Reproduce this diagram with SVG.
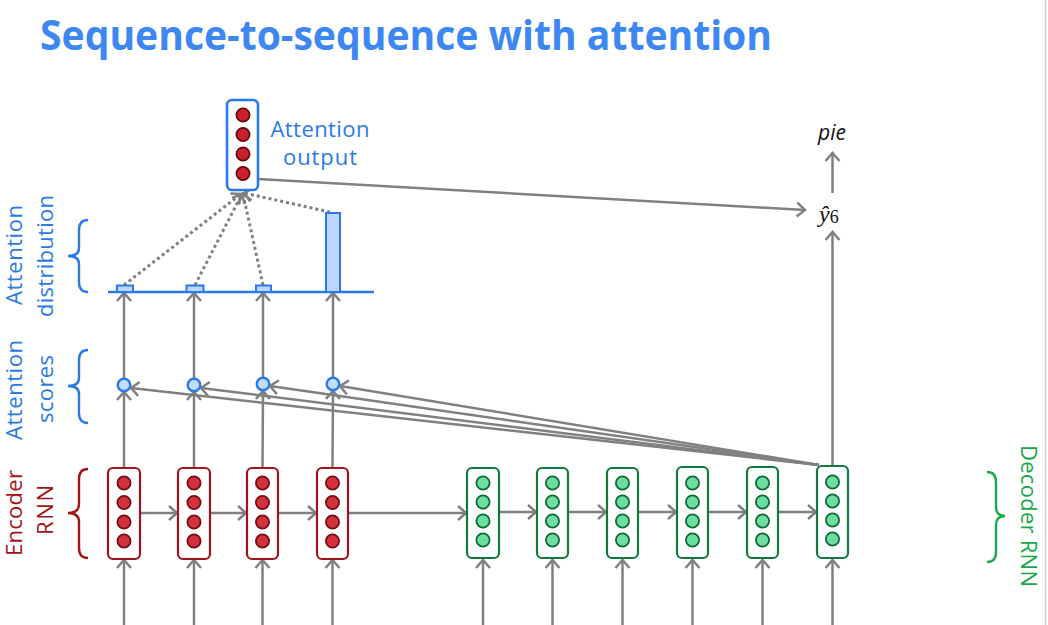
<svg xmlns="http://www.w3.org/2000/svg" width="1048" height="625" viewBox="0 0 1048 625">
<style>
.title{font-family:"Open Sans","Liberation Sans",sans-serif;font-weight:bold;font-size:41px;fill:#3d87f2}
.lbl{font-family:"Open Sans","Liberation Sans",sans-serif;font-size:22px}
.blue{fill:#2a7ae6}
.red{fill:#a31515}
.green{fill:#19a84a}
.enc rect{fill:#fff;stroke:#a0141e;stroke-width:2.2}
.enc circle{fill:#d1323e;stroke:#7a0a14;stroke-width:1.8}
.dec rect{fill:#fff;stroke:#0f7a3c;stroke-width:2.2}
.dec circle{fill:#6ddea0;stroke:#0c6a34;stroke-width:1.8}
.att rect{fill:#fff;stroke:#2a7ae6;stroke-width:2.6}
.att circle{fill:#c8202c;stroke:#6a0a10;stroke-width:1.8}
.ar{stroke:#808080;stroke-width:2.5;fill:none;marker-end:url(#ah)}
.dot{stroke:#808080;stroke-width:3;fill:none;stroke-dasharray:3 3;marker-end:url(#ah)}
.score{fill:#c3dcff;stroke:#2a7ae6;stroke-width:2.4}
.bar{fill:#bcd6ff;stroke:#2a7ae6;stroke-width:2}
.brace{fill:none;stroke-width:2.4}
</style>
<defs>
<marker id="ah" markerUnits="userSpaceOnUse" markerWidth="20" markerHeight="20" refX="10" refY="10" orient="auto" viewBox="0 0 20 20">
<path d="M2,3 L10,10 L2,17" fill="none" stroke="#808080" stroke-width="2.5"/>
</marker>
</defs>
<rect x="0" y="0" width="1048" height="625" fill="#fff"/>
<line x1="1045.5" y1="0" x2="1045.5" y2="625" stroke="#cfcfcf" stroke-width="1.5"/>
<text class="title" x="40" y="50" textLength="732" lengthAdjust="spacingAndGlyphs">Sequence-to-sequence with attention</text>

<g id="connectors">
<line class="ar" x1="124" y1="625" x2="124" y2="560"/>
<line class="ar" x1="194" y1="625" x2="194" y2="560"/>
<line class="ar" x1="262.5" y1="625" x2="262.5" y2="560"/>
<line class="ar" x1="332.5" y1="625" x2="332.5" y2="560"/>
<line class="ar" x1="483" y1="625" x2="483" y2="560"/>
<line class="ar" x1="552.5" y1="625" x2="552.5" y2="560"/>
<line class="ar" x1="622.5" y1="625" x2="622.5" y2="560"/>
<line class="ar" x1="692.5" y1="625" x2="692.5" y2="560"/>
<line class="ar" x1="762.5" y1="625" x2="762.5" y2="560"/>
<line class="ar" x1="832.5" y1="625" x2="832.5" y2="560"/>
<line class="ar" x1="140" y1="513" x2="177" y2="513"/>
<line class="ar" x1="210" y1="513" x2="246" y2="513"/>
<line class="ar" x1="278" y1="513" x2="316" y2="513"/>
<line class="ar" x1="348" y1="513" x2="466" y2="513"/>
<line class="ar" x1="499" y1="512" x2="536" y2="512"/>
<line class="ar" x1="568" y1="512" x2="606" y2="512"/>
<line class="ar" x1="638" y1="512" x2="676" y2="512"/>
<line class="ar" x1="708" y1="512" x2="746" y2="512"/>
<line class="ar" x1="778" y1="512" x2="816" y2="512"/>
<line class="ar" x1="124" y1="467" x2="124" y2="392"/>
<line class="ar" x1="194" y1="467" x2="194" y2="392"/>
<line class="ar" x1="262.5" y1="467" x2="263" y2="391"/>
<line class="ar" x1="332.5" y1="467" x2="333" y2="391"/>
<line class="ar" x1="124" y1="378" x2="124" y2="293"/>
<line class="ar" x1="194" y1="378" x2="194" y2="293"/>
<line class="ar" x1="263" y1="377" x2="263" y2="293"/>
<line class="ar" x1="333" y1="377" x2="333" y2="293"/>
<line class="ar" x1="819" y1="465" x2="131" y2="388"/>
<line class="ar" x1="819" y1="465" x2="201" y2="388"/>
<line class="ar" x1="819" y1="465" x2="270" y2="386"/>
<line class="ar" x1="819" y1="465" x2="340" y2="386"/>
<line class="dot" x1="124" y1="285" x2="241" y2="194"/>
<line class="dot" x1="195" y1="285" x2="242" y2="194"/>
<line class="dot" x1="263" y1="285" x2="243" y2="194"/>
<line class="dot" x1="330" y1="212" x2="244" y2="193"/>
<line class="ar" x1="258" y1="179" x2="805" y2="210"/>
<line class="ar" x1="832.5" y1="466" x2="832.5" y2="232"/>
<line class="ar" x1="832.5" y1="193" x2="832.5" y2="153"/>
</g>

<g id="attention-distribution">
<line x1="108" y1="292" x2="374" y2="292" stroke="#2a7ae6" stroke-width="2.4"/>
<rect class="bar" x="117" y="285.5" width="16" height="6.5"/>
<rect class="bar" x="186.5" y="285.5" width="17" height="6.5"/>
<rect class="bar" x="256" y="285.5" width="15" height="6.5"/>
<rect class="bar" x="326" y="213" width="14" height="79"/>
</g>

<g id="attention-scores">
<circle class="score" cx="124" cy="385" r="6.3"/>
<circle class="score" cx="194" cy="385" r="6.3"/>
<circle class="score" cx="263" cy="384" r="6.3"/>
<circle class="score" cx="333" cy="384" r="6.3"/>
</g>

<g id="attention-output" class="att">
<rect x="227" y="100" width="31" height="90" rx="5"/>
<circle cx="243" cy="115" r="6.6"/>
<circle cx="243" cy="134.5" r="6.6"/>
<circle cx="243" cy="154" r="6.6"/>
<circle cx="243" cy="173.5" r="6.6"/>
</g>
<g id="attention-output-label">
<text class="lbl blue" x="320" y="137" text-anchor="middle" textLength="99">Attention</text>
<text class="lbl blue" x="320" y="165" text-anchor="middle" textLength="74">output</text>
</g>

<g id="encoder" class="enc">
<g id="enc1"><rect x="108" y="468" width="32" height="91" rx="5"/><circle cx="124" cy="483" r="6.6"/><circle cx="124" cy="502.5" r="6.6"/><circle cx="124" cy="522" r="6.6"/><circle cx="124" cy="541" r="6.6"/></g>
<g id="enc2"><rect x="178" y="468" width="32" height="91" rx="5"/><circle cx="194" cy="483" r="6.6"/><circle cx="194" cy="502.5" r="6.6"/><circle cx="194" cy="522" r="6.6"/><circle cx="194" cy="541" r="6.6"/></g>
<g id="enc3"><rect x="247" y="468" width="31" height="91" rx="5"/><circle cx="262.5" cy="483" r="6.6"/><circle cx="262.5" cy="502.5" r="6.6"/><circle cx="262.5" cy="522" r="6.6"/><circle cx="262.5" cy="541" r="6.6"/></g>
<g id="enc4"><rect x="317" y="468" width="31" height="91" rx="5"/><circle cx="332.5" cy="483" r="6.6"/><circle cx="332.5" cy="502.5" r="6.6"/><circle cx="332.5" cy="522" r="6.6"/><circle cx="332.5" cy="541" r="6.6"/></g>
</g>

<g id="decoder" class="dec">
<g id="dec1"><rect x="467" y="468" width="32" height="90" rx="5"/><circle cx="483" cy="483" r="6.6"/><circle cx="483" cy="502" r="6.6"/><circle cx="483" cy="521" r="6.6"/><circle cx="483" cy="540" r="6.6"/></g>
<g id="dec2"><rect x="537" y="468" width="31" height="90" rx="5"/><circle cx="552.5" cy="483" r="6.6"/><circle cx="552.5" cy="502" r="6.6"/><circle cx="552.5" cy="521" r="6.6"/><circle cx="552.5" cy="540" r="6.6"/></g>
<g id="dec3"><rect x="607" y="468" width="31" height="90" rx="5"/><circle cx="622.5" cy="483" r="6.6"/><circle cx="622.5" cy="502" r="6.6"/><circle cx="622.5" cy="521" r="6.6"/><circle cx="622.5" cy="540" r="6.6"/></g>
<g id="dec4"><rect x="677" y="467" width="31" height="91" rx="5"/><circle cx="692.5" cy="483" r="6.6"/><circle cx="692.5" cy="502" r="6.6"/><circle cx="692.5" cy="521" r="6.6"/><circle cx="692.5" cy="540" r="6.6"/></g>
<g id="dec5"><rect x="747" y="467" width="31" height="91" rx="5"/><circle cx="762.5" cy="483" r="6.6"/><circle cx="762.5" cy="502" r="6.6"/><circle cx="762.5" cy="521" r="6.6"/><circle cx="762.5" cy="540" r="6.6"/></g>
<g id="dec6"><rect x="817" y="466" width="31" height="92" rx="5"/><circle cx="832.5" cy="482" r="6.6"/><circle cx="832.5" cy="501" r="6.6"/><circle cx="832.5" cy="520" r="6.6"/><circle cx="832.5" cy="539" r="6.6"/></g>
</g>

<g id="output">
<text x="819" y="222" font-family="'Liberation Serif',serif" font-style="italic" font-size="24" fill="#111">ŷ<tspan font-style="normal" font-size="18" dy="1">6</tspan></text>
<text x="832" y="140" text-anchor="middle" font-family="'Open Sans','Liberation Sans',sans-serif" font-style="italic" font-size="21" fill="#111">pie</text>
</g>

<g id="labels">
<path class="brace" stroke="#2a7ae6" d="M88,220 Q79,220 79,230 L79,248 Q79,256 68,256 Q79,256 79,264 L79,282 Q79,292 88,292"/>
<text class="lbl blue" transform="translate(22,255) rotate(-90)" text-anchor="middle" textLength="100">Attention</text>
<text class="lbl blue" transform="translate(53,256) rotate(-90)" text-anchor="middle" textLength="122">distribution</text>

<path class="brace" stroke="#2a7ae6" d="M88,350 Q79,350 79,360 L79,378 Q79,386 68,386 Q79,386 79,394 L79,413 Q79,423 88,423"/>
<text class="lbl blue" transform="translate(22,390) rotate(-90)" text-anchor="middle" textLength="100">Attention</text>
<text class="lbl blue" transform="translate(53,389) rotate(-90)" text-anchor="middle" textLength="68">scores</text>

<path class="brace" stroke="#a31515" d="M88,469 Q79,469 79,479 L79,504 Q79,513 68,513 Q79,513 79,522 L79,548 Q79,558 88,558"/>
<text class="lbl red" transform="translate(22,513) rotate(-90)" text-anchor="middle" textLength="86">Encoder</text>
<text class="lbl red" transform="translate(53,510) rotate(-90)" text-anchor="middle" textLength="50">RNN</text>

<path class="brace" stroke="#19a84a" d="M987,472 Q996,472 996,482 L996,507 Q996,516 1005,516 Q996,516 996,525 L996,552 Q996,562 987,562"/>
<text class="lbl green" transform="translate(1021,516) rotate(90)" text-anchor="middle" textLength="142">Decoder RNN</text>
</g>
</svg>
